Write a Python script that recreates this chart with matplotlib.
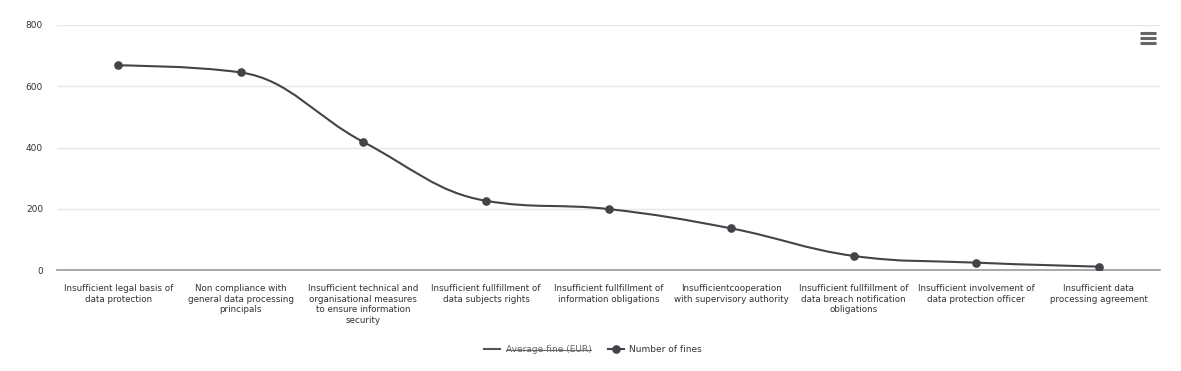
import numpy as np
import matplotlib.pyplot as plt
from matplotlib.path import Path
from matplotlib.patches import PathPatch
from matplotlib.lines import Line2D

categories = [
    "Insufficient legal basis of\ndata protection",
    "Non compliance with\ngeneral data processing\nprincipals",
    "Insufficient technical and\norganisational measures\nto ensure information\nsecurity",
    "Insufficient fullfillment of\ndata subjects rights",
    "Insufficient fullfillment of\ninformation obligations",
    "Insufficientcooperation\nwith supervisory authority",
    "Insufficient fullfillment of\ndata breach notification\nobligations",
    "Insufficient involvement of\ndata protection officer",
    "Insufficient data\nprocessing agreement",
]
number_of_fines = [668, 645, 418, 226, 199, 136, 46, 24, 11]
y_ticks = [0, 200, 400, 600, 800]

LINE = "#434348"


def spline_path(xs, ys, smoothing=1.5):
    """highcharts style spline -> matplotlib bezier path"""
    n = len(xs)
    denom = smoothing + 1
    lc = [(x, y) for x, y in zip(xs, ys)]
    rc = [(x, y) for x, y in zip(xs, ys)]
    for i in range(1, n - 1):
        px, py = xs[i], ys[i]
        lx, ly = xs[i - 1], ys[i - 1]
        nx, ny = xs[i + 1], ys[i + 1]
        lcx = (smoothing * px + lx) / denom
        lcy = (smoothing * py + ly) / denom
        rcx = (smoothing * px + nx) / denom
        rcy = (smoothing * py + ny) / denom
        corr = ((rcy - lcy) * (rcx - px)) / (rcx - lcx) + py - rcy
        lcy += corr
        rcy += corr
        if lcy > ly and lcy > py:
            lcy = max(ly, py)
            rcy = 2 * py - lcy
        elif lcy < ly and lcy < py:
            lcy = min(ly, py)
            rcy = 2 * py - lcy
        if rcy > ny and rcy > py:
            rcy = max(ny, py)
            lcy = 2 * py - rcy
        elif rcy < ny and rcy < py:
            rcy = min(ny, py)
            lcy = 2 * py - rcy
        lc[i] = (lcx, lcy)
        rc[i] = (rcx, rcy)
    verts = [(xs[0], ys[0])]
    codes = [Path.MOVETO]
    for i in range(1, n):
        verts += [rc[i - 1], lc[i], (xs[i], ys[i])]
        codes += [Path.CURVE4] * 3
    return Path(verts, codes)


fig = plt.figure(figsize=(11.81, 3.71), dpi=100)
ax = fig.add_axes([57 / 1181, 101 / 371, 1103 / 1181, 245 / 371])

x = np.arange(len(categories))
ax.add_patch(PathPatch(spline_path(list(x), number_of_fines), fill=False,
                       edgecolor=LINE, lw=1.5, zorder=3))
ax.plot(x, number_of_fines, "o", color=LINE, ms=5.2, zorder=4)

ax.set_xlim(-0.5, len(categories) - 0.5)
ax.set_ylim(0, 800)
ax.set_yticks(y_ticks)
ax.set_yticklabels([str(v) for v in y_ticks], fontsize=6.5, color="#333333")
ax.set_xticks(x)
ax.set_xticklabels(categories, fontsize=6.3, color="#333333", linespacing=1.25)
ax.tick_params(axis="both", length=0)
ax.tick_params(axis="y", pad=10)
ax.tick_params(axis="x", pad=10)
ax.grid(axis="y", color="#e6e6e6", lw=1)
ax.set_axisbelow(True)
for s in ["top", "right", "left"]:
    ax.spines[s].set_visible(False)
ax.spines["bottom"].set_color("#999999")
ax.spines["bottom"].set_linewidth(1.2)

# legend
handles = [
    Line2D([], [], color="#555555", lw=1.5),
    Line2D([], [], color=LINE, lw=1.5, marker="o", ms=5.2),
]
leg = fig.legend(handles, ["Average fine (EUR)", "Number of fines"], loc="center",
                 bbox_to_anchor=(593 / 1181, 1 - 350 / 371), ncol=2, frameon=False,
                 fontsize=6.5, handlelength=1.8, handletextpad=0.6, columnspacing=1.8)
t0, t1 = leg.get_texts()
t0.set_color("#666666")
t1.set_color("#333333")

# strike through the hidden series
fig.canvas.draw()
bb = t0.get_window_extent().transformed(fig.transFigure.inverted())
ym = (bb.y0 + bb.y1) / 2
fig.add_artist(Line2D([bb.x0, bb.x1], [ym, ym], color="#666666", lw=0.8,
                      transform=fig.transFigure))

# hamburger menu icon
for yy in [33, 38, 43]:
    fig.add_artist(Line2D([1140 / 1181, 1156 / 1181], [1 - yy / 371] * 2,
                          color="#666666", lw=2.2, transform=fig.transFigure,
                          solid_capstyle="butt"))

fig.savefig("out.png", dpi=100)
